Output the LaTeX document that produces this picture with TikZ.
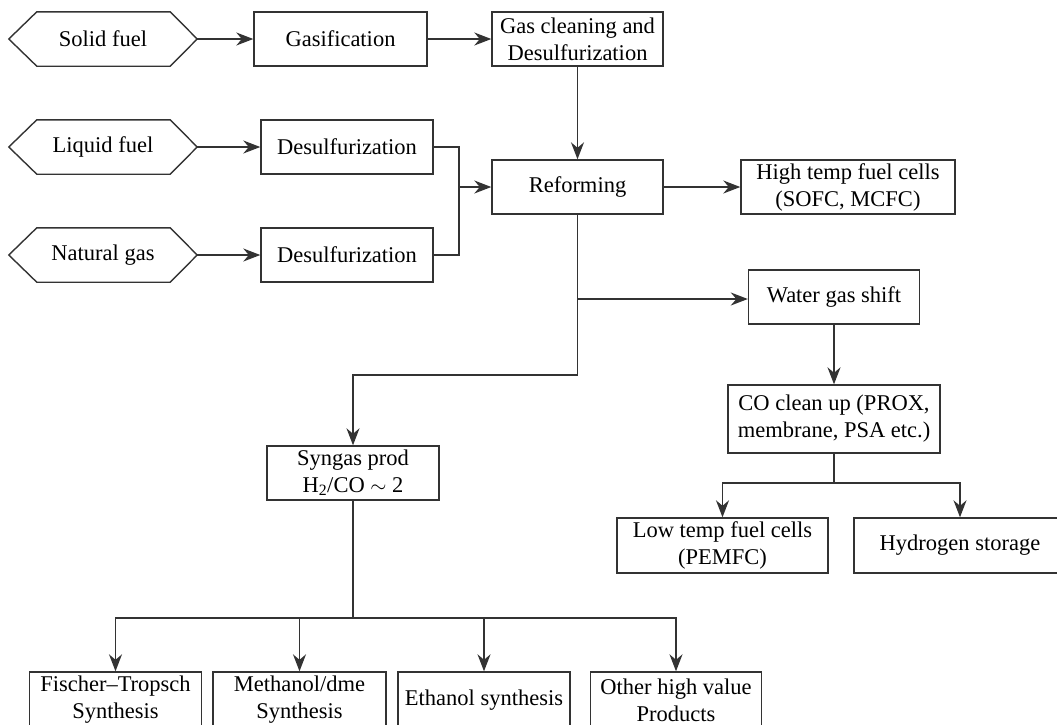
\documentclass[tikz,border=0pt]{standalone}
\usepackage{fontspec}
\setmainfont{Liberation Serif}
\usetikzlibrary{arrows.meta}
\begin{document}
\begin{tikzpicture}[x=1pt,y=-1pt,
  txt/.style={font=\fontsize{22.5}{27}\selectfont, text=black, align=center, inner sep=0pt},
  box/.style={txt, draw=black!80, line width=1.4pt},
  hexnode/.style={txt, minimum width=188pt, minimum height=54pt},
  conn/.style={draw=black!80, line width=1.4pt},
  arr/.style={conn, -{Stealth[length=17pt,width=13pt,inset=5.5pt]}}]
\useasboundingbox (0,0) rectangle (1057,724);
\clip (0,0) rectangle (1057,724);
% fuels
\node[hexnode] (solid) at (103,39) {Solid fuel};
\node[hexnode] (liquid) at (103,147) {Liquid fuel};
\node[hexnode] (natural) at (103,255) {Natural gas};
\foreach \n in {solid,liquid,natural}
  \draw[conn] (\n.west) -- ([xshift=28pt]\n.north west) -- ([xshift=-27pt]\n.north east) -- (\n.east) -- ([xshift=-27pt]\n.south east) -- ([xshift=28pt]\n.south west) -- cycle;
% boxes
\node[box, minimum width=173pt, minimum height=54pt] (gasif) at (340.5,39) {Gasification};
\node[box, minimum width=171pt, minimum height=54pt] (clean) at (577.5,39) {Gas cleaning and\\Desulfurization};
\node[box, minimum width=172pt, minimum height=54pt] (des1) at (347,147) {Desulfurization};
\node[box, minimum width=172pt, minimum height=54pt] (des2) at (347,255) {Desulfurization};
\node[box, minimum width=171pt, minimum height=54pt] (reform) at (577.5,187) {Reforming};
\node[box, minimum width=214pt, minimum height=54pt] (htfc) at (848,187) {High temp fuel cells\\(SOFC, MCFC)};
\node[box, minimum width=171pt, minimum height=54pt] (wgs) at (834,297) {Water gas shift};
\node[box, minimum width=212pt, minimum height=68pt] (co) at (834,419) {CO clean up (PROX,\\membrane, PSA etc.)};
\node[box, minimum width=172pt, minimum height=54pt] (syn) at (353,473) {Syngas prod\\H\textsubscript{2}/CO $\sim$ 2};
\node[box, minimum width=211pt, minimum height=55pt] (lt) at (722.5,545.5) {Low temp fuel cells\\(PEMFC)};
\node[box, minimum width=212pt, minimum height=55pt] (h2) at (960,545.5) {Hydrogen storage};
\node[box, minimum width=172pt, minimum height=56pt] (ft) at (115.5,700) {Fischer--Tropsch\\Synthesis};
\node[box, minimum width=173pt, minimum height=56pt] (meoh) at (299.5,700) {Methanol/dme\\Synthesis};
\node[box, minimum width=172pt, minimum height=56pt] (etoh) at (484,700) {Ethanol synthesis};
\node[box, minimum width=171pt, minimum height=56pt] (other) at (676,700) {Other high value\\Products};
% connectors
\draw[arr] (solid) -- (gasif);
\draw[arr] (gasif) -- (clean);
\draw[arr] (clean) -- (reform);
\draw[arr] (liquid) -- (des1);
\draw[arr] (natural) -- (des2);
\coordinate (j1) at (459,187);
\draw[conn] (des1.east) -| (j1) |- (des2.east);
\draw[arr] (j1) -- (reform.west);
\draw[arr] (reform) -- (htfc);
\coordinate (j2) at (577.5,299);
\coordinate (j3) at (577.5,375);
\draw[arr] (reform.south) -- (j3) -| (syn.north);
\draw[arr] (j2) -- (j2 -| wgs.west);
\draw[arr] (wgs) -- (co);
\coordinate (j4) at (834,483);
\draw[arr] (co.south) -- (j4) -| (lt.north);
\draw[arr] (j4) -| (h2.north);
\coordinate (j5) at (353,618);
\draw[arr] (syn.south) -- (j5) -| (ft.north);
\draw[arr] (j5) -| (meoh.north);
\draw[arr] (j5) -| (etoh.north);
\draw[arr] (j5) -| (other.north);
\end{tikzpicture}
\end{document}
